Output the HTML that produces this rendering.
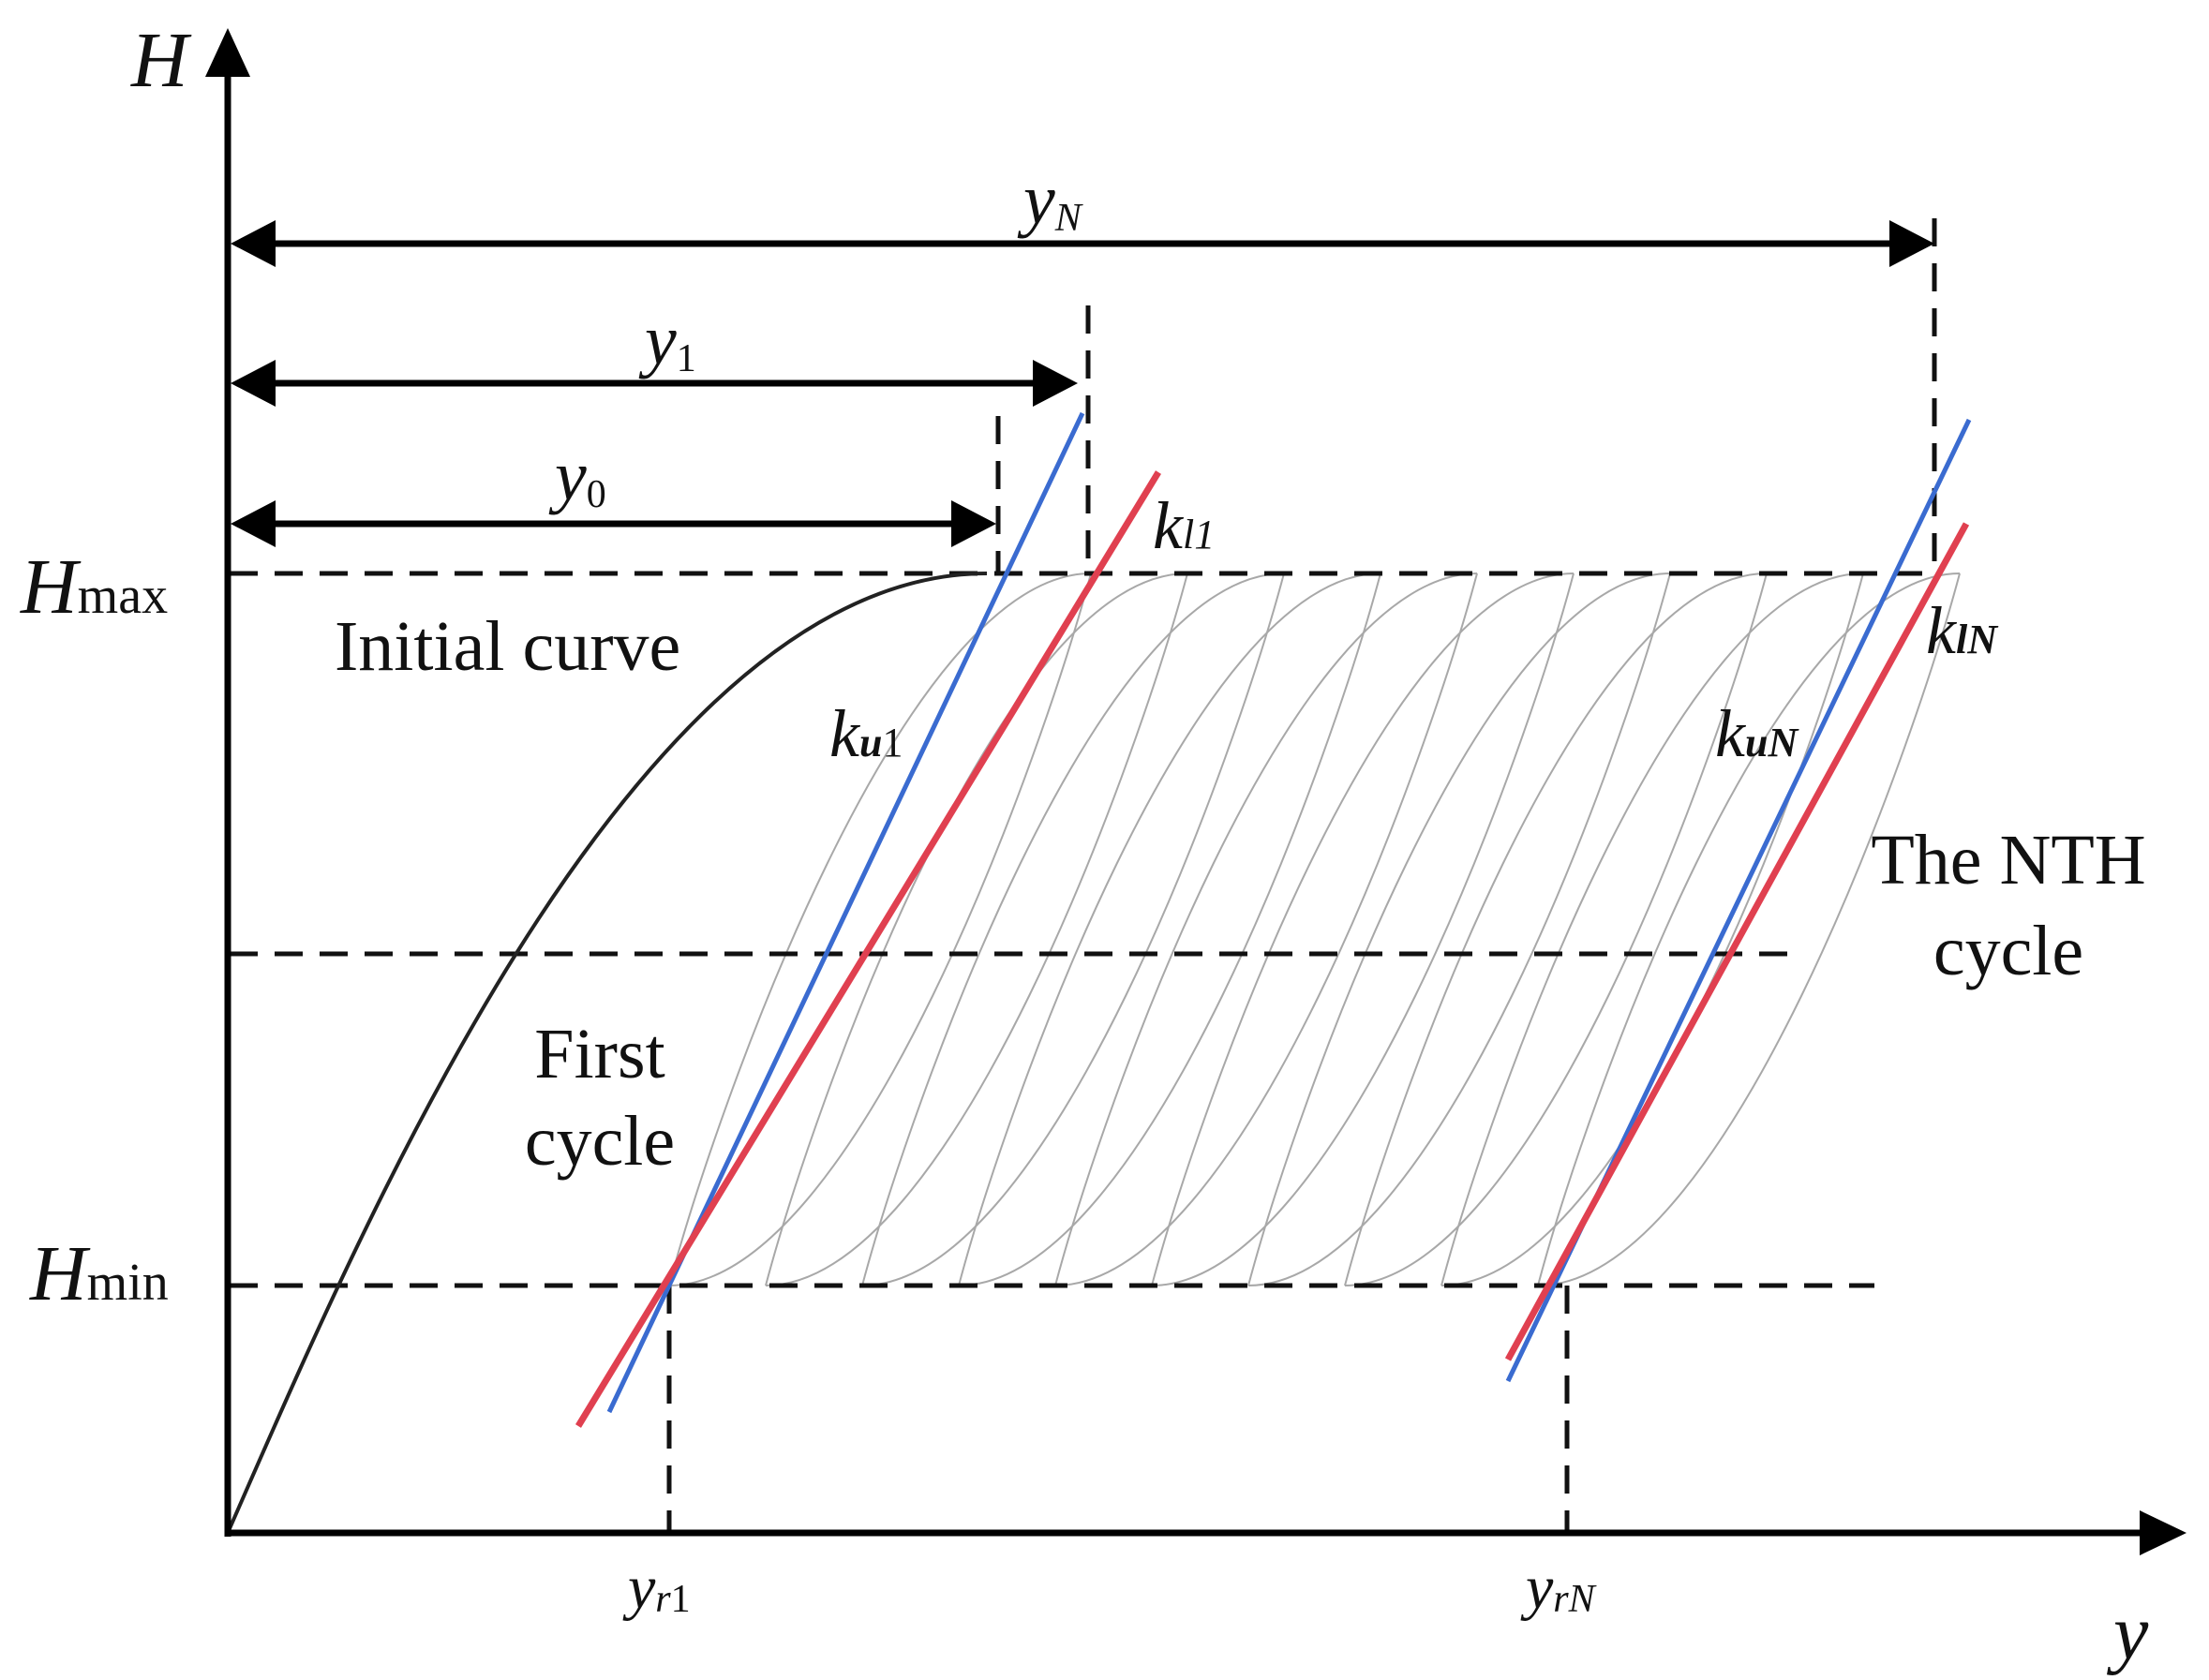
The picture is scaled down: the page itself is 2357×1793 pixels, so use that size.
<!DOCTYPE html>
<html><head><meta charset="utf-8"><style>
html,body{margin:0;padding:0;background:#fff;}
svg{display:block;}
text{font-family:"Liberation Serif",serif;fill:#111;}
</style></head><body>
<svg width="2357" height="1793" viewBox="0 0 2357 1793" xmlns="http://www.w3.org/2000/svg">
<g fill="none" stroke="#a8a8a8" stroke-width="2">
<path d="M714,1372 C914,1372 1114,800 1164,612"/>
<path d="M817,1372 C1017,1372 1217,800 1267,612"/>
<path d="M920,1372 C1120,1372 1320,800 1370,612"/>
<path d="M1023,1372 C1223,1372 1423,800 1473,612"/>
<path d="M1126,1372 C1326,1372 1526,800 1576,612"/>
<path d="M1229,1372 C1429,1372 1629,800 1679,612"/>
<path d="M1332,1372 C1532,1372 1732,800 1782,612"/>
<path d="M1435,1372 C1635,1372 1835,800 1885,612"/>
<path d="M1538,1372 C1738,1372 1938,800 1988,612"/>
<path d="M1641,1372 C1841,1372 2041,800 2091,612"/>
<path d="M1164,612 C964,612 764,1184 714,1372"/>
<path d="M1267,612 C1067,612 867,1184 817,1372"/>
<path d="M1370,612 C1170,612 970,1184 920,1372"/>
<path d="M1473,612 C1273,612 1073,1184 1023,1372"/>
<path d="M1576,612 C1376,612 1176,1184 1126,1372"/>
<path d="M1679,612 C1479,612 1279,1184 1229,1372"/>
<path d="M1782,612 C1582,612 1382,1184 1332,1372"/>
<path d="M1885,612 C1685,612 1485,1184 1435,1372"/>
<path d="M1988,612 C1788,612 1588,1184 1538,1372"/>
<path d="M2091,612 C1891,612 1691,1184 1641,1372"/>
</g>
<g stroke="#111" stroke-width="5" stroke-dasharray="30,18" fill="none">
<line x1="245" y1="612" x2="2068" y2="612"/>
<line x1="245" y1="1018" x2="1925" y2="1018"/>
<line x1="245" y1="1372" x2="2000" y2="1372"/>
<line x1="714" y1="1372" x2="714" y2="1636"/>
<line x1="1672" y1="1372" x2="1672" y2="1636"/>
<line x1="1065" y1="444" x2="1065" y2="612"/>
<line x1="1161" y1="326" x2="1161" y2="612"/>
<line x1="2064" y1="233" x2="2064" y2="609"/>
</g>
<path d="M243,1636 C390,1300 680,612 1053,612" fill="none" stroke="#222" stroke-width="4"/>
<line x1="650" y1="1507" x2="1155" y2="441" stroke="#3a6bd0" stroke-width="5"/>
<line x1="617" y1="1522" x2="1236" y2="504" stroke="#e04050" stroke-width="7"/>
<line x1="1609" y1="1474" x2="2101" y2="448" stroke="#3a6bd0" stroke-width="5"/>
<line x1="1609" y1="1451" x2="2098" y2="559" stroke="#e04050" stroke-width="7"/>
<g stroke="#000" stroke-width="7" fill="none">
<line x1="243" y1="1640" x2="243" y2="60"/>
<line x1="240" y1="1636" x2="2300" y2="1636"/>
<line x1="270" y1="260" x2="2030" y2="260"/>
<line x1="270" y1="409" x2="1120" y2="409"/>
<line x1="270" y1="559" x2="1030" y2="559"/>
</g>
<g fill="#000">
<polygon points="243,30 219,82 267,82"/>
<polygon points="2333,1636 2283,1612 2283,1660"/>
<polygon points="246,260 294,235 294,285"/>
<polygon points="2064,260 2016,235 2016,285"/>
<polygon points="246,409 294,384 294,434"/>
<polygon points="1150,409 1102,384 1102,434"/>
<polygon points="246,559 294,534 294,584"/>
<polygon points="1063,559 1015,534 1015,584"/>
</g>
<text x="140" y="92" font-size="84" font-style="italic">H</text>
<text x="2255" y="1770" font-size="84" font-style="italic">y</text>
<text x="1092" y="238" font-size="76" font-style="italic">y<tspan font-size="42" dy="8">N</tspan></text>
<text x="688" y="388" font-size="76" font-style="italic">y<tspan font-size="42" font-style="normal" dy="8">1</tspan></text>
<text x="592" y="533" font-size="76" font-style="italic">y<tspan font-size="42" font-style="normal" dy="8">0</tspan></text>
<text x="22" y="654" font-size="84" font-style="italic">H<tspan font-size="56" font-style="normal">max</tspan></text>
<text x="32" y="1387" font-size="84" font-style="italic">H<tspan font-size="56" font-style="normal">min</tspan></text>
<text x="357" y="715" font-size="76">Initial curve</text>
<text x="640" y="1150" font-size="76" text-anchor="middle">First</text>
<text x="640" y="1243" font-size="76" text-anchor="middle">cycle</text>
<text x="2143" y="943" font-size="76" text-anchor="middle">The NTH</text>
<text x="2143" y="1040" font-size="76" text-anchor="middle">cycle</text>
<text x="885" y="807" font-size="72" font-style="italic">k<tspan font-size="44" font-weight="bold">u</tspan><tspan font-size="44" font-style="normal">1</tspan></text>
<text x="1230" y="585" font-size="72" font-style="italic">k<tspan font-size="44">l1</tspan></text>
<text x="1830" y="807" font-size="72" font-style="italic">k<tspan font-size="44" font-weight="bold">uN</tspan></text>
<text x="2055" y="697" font-size="72" font-style="italic">k<tspan font-size="44" font-weight="bold">lN</tspan></text>
<text x="670" y="1716" font-size="66" font-style="italic">y<tspan font-size="42" dy="4">r</tspan><tspan font-size="42" font-style="normal">1</tspan></text>
<text x="1628" y="1716" font-size="66" font-style="italic">y<tspan font-size="42" dy="4">rN</tspan></text>
</svg>
</body></html>
